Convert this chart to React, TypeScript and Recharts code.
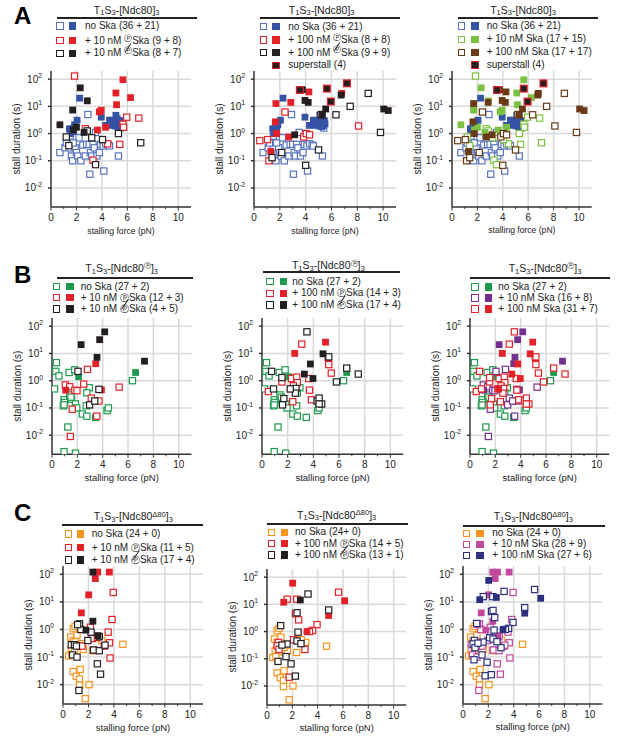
import React from "react";
import { ReferenceLine, Scatter, ScatterChart, XAxis, YAxis } from "recharts";

type Pt = [number, number];

const FONT = '"Liberation Sans", Arial, Helvetica, sans-serif';

// ---- row A: T1S3-[Ndc80]3 ----
const aNoSkaOpen: Pt[] = [
  [0.7, 0.2], [1.1, 0.3], [1.3, 0.55], [1.5, 0.3], [1.6, 0.15], [1.7, 0.1], [1.8, 0.75], [1.9, 0.3],
  [2.0, 0.2], [2.1, 0.15], [2.2, 0.7], [2.35, 0.1], [2.5, 0.38], [2.7, 0.15], [2.8, 0.4], [2.9, 5.0],
  [3.0, 0.4], [3.05, 0.032], [3.1, 0.2], [3.2, 0.15], [3.3, 0.4], [3.4, 0.3], [3.5, 1.1], [3.6, 0.15],
  [3.8, 0.2], [3.9, 0.4], [4.1, 0.35], [4.15, 0.042], [4.3, 0.42], [4.5, 0.38], [4.6, 0.35], [5.3, 0.15],
  [5.4, 1.6], [1.2, 0.45], [1.5, 0.8], [1.75, 0.45],
];
const aNoSkaFilled: Pt[] = [
  [2.25, 20], [2.05, 3.1], [1.85, 2.1], [1.65, 1.5], [1.45, 1.5], [1.55, 1.0], [1.75, 1.2], [3.95, 4.0],
  [4.3, 2.0], [4.6, 3.1], [4.8, 3.1], [4.75, 2.0], [5.0, 2.5], [5.1, 4.7], [5.2, 3.5], [5.3, 2.6],
  [5.4, 2.0], [5.25, 1.8], [5.45, 3.0], [5.5, 2.3], [5.05, 1.9],
];
const a10PhosOpen: Pt[] = [
  [1.85, 130], [5.95, 4.0], [6.9, 3.7], [5.65, 2.2], [5.7, 1.7], [2.7, 1.5], [3.3, 0.105], [4.45, 0.42], [5.4, 0.4],
];
const a10PhosFilled: Pt[] = [
  [5.65, 95], [5.1, 31], [5.15, 11.5], [6.25, 21], [3.8, 6.3], [3.65, 1.35], [4.3, 1.7], [3.95, 7.2],
];
const a10DephosOpen: Pt[] = [
  [1.2, 0.75], [1.4, 0.36], [2.85, 1.25], [3.2, 0.7], [3.5, 0.072], [4.05, 0.6], [5.3, 1.0], [7.05, 0.46],
];
const a10DephosFilled: Pt[] = [
  [2.3, 48], [2.85, 16], [1.7, 7.3], [0.7, 2.1], [2.0, 1.7], [1.75, 1.35], [2.6, 1.1],
];
const a100PhosOpen: Pt[] = [
  [2.4, 6.2], [0.45, 0.55], [1.15, 0.1], [3.85, 0.75], [4.05, 1.0], [4.3, 0.9], [8.1, 1.9], [1.05, 0.6],
];
const a100PhosFilled: Pt[] = [
  [1.7, 12.7], [2.85, 14], [4.25, 34], [6.8, 30], [1.65, 2.7], [1.3, 0.22], [2.7, 0.75], [1.75, 1.0],
];
const a100DephosOpen: Pt[] = [
  [8.85, 30], [7.45, 10], [6.35, 4.9], [9.8, 1.1], [4.0, 0.068], [5.0, 0.25], [1.4, 0.13], [2.15, 0.2], [5.2, 5.0],
];
const a100DephosFilled: Pt[] = [
  [3.75, 41], [3.95, 16.5], [4.2, 14], [5.3, 4.8], [5.55, 8], [6.75, 26], [10.05, 8], [10.4, 7], [3.15, 0.9],
];
const aSuperstall: Pt[] = [[3.55, 40], [5.65, 45], [5.95, 15], [7.2, 70]];

// ---- row B: T1S3-[Ndc80(P)]3 ----
const bNoSkaOpen: Pt[] = [
  [0.35, 4.6], [0.3, 2.2], [0.55, 1.5], [0.2, 0.5], [1.35, 2.0], [1.8, 2.5], [0.95, 0.2], [1.0, 0.16],
  [0.9, 0.12], [1.4, 0.3], [1.55, 0.21], [1.85, 0.14], [1.95, 0.1], [2.95, 0.55], [2.75, 0.36], [2.4, 0.06],
  [2.75, 0.05], [3.45, 0.045], [4.35, 0.08], [4.45, 0.1], [6.35, 1.0], [2.7, 0.12], [1.25, 0.02],
  [0.95, 0.0025], [1.85, 0.0022], [0.95, 0.13], [1.5, 0.25],
];
const bNoSkaFilled: Pt[] = [[2.1, 1.4], [6.6, 2.0]];
const b10PhosOpen: Pt[] = [
  [1.05, 0.7], [1.4, 0.6], [1.8, 0.45], [1.97, 0.43], [2.5, 0.75], [2.8, 2.6], [3.1, 0.23], [3.7, 0.18],
  [3.53, 0.05], [5.3, 0.58], [1.6, 0.09], [1.45, 0.009],
];
const b10PhosFilled: Pt[] = [[3.45, 4.2], [1.08, 0.45], [3.9, 0.46]];
const b10DephosOpen: Pt[] = [[2.05, 2.2], [2.97, 0.13], [3.37, 0.18], [3.7, 0.48]];
const b10DephosFilled: Pt[] = [[2.3, 21], [3.76, 32], [4.16, 62], [3.55, 7.2], [7.3, 5.2]];
const b100PhosOpen: Pt[] = [
  [3.1, 22], [2.3, 1.2], [2.7, 1.35], [2.75, 0.85], [2.45, 0.65], [2.4, 0.17], [3.65, 1.2], [3.7, 0.45],
  [3.85, 0.2], [5.2, 3.9], [5.4, 1.9], [5.15, 7.2], [0.5, 0.4], [1.55, 0.9],
];
const b100PhosFilled: Pt[] = [[2.55, 10], [4.95, 26], [2.25, 0.5]];
const b100DephosOpen: Pt[] = [
  [3.5, 62], [5.2, 7.5], [6.6, 2.9], [7.5, 1.75], [5.8, 0.9], [0.75, 2.2], [0.9, 0.5], [1.55, 1.3],
  [1.7, 0.22], [1.6, 0.13], [2.65, 0.52], [2.6, 0.35], [4.3, 0.18], [4.45, 0.23], [4.65, 0.14], [4.45, 0.14], [2.2, 0.5],
];
const b100DephosFilled: Pt[] = [[4.75, 9.7], [3.77, 4.1], [3.3, 1.75], [3.97, 1.2]];

// ---- row C: T1S3-[Ndc80Δ80]3 ----
const cNoSkaOpen: Pt[] = [
  [0.8, 1.07], [0.95, 1.3], [0.6, 0.53], [0.8, 0.4], [1.1, 0.62], [0.95, 0.36], [0.65, 0.2], [0.9, 0.18],
  [1.5, 0.31], [1.6, 0.19], [0.45, 0.11], [0.7, 0.12], [0.8, 0.03], [1.05, 0.02], [1.35, 0.036], [1.3, 0.016],
  [1.3, 0.0095], [2.05, 0.01], [1.75, 0.0031], [3.05, 0.4], [2.7, 0.5], [2.35, 0.17], [4.7, 0.29], [1.35, 0.26],
];
const cNoSkaFilled: Pt[] = [];
const c10PhosOpen: Pt[] = [
  [3.95, 22], [3.85, 2.3], [2.15, 1.2], [2.3, 0.47], [3.55, 0.8], [3.65, 0.33], [3.25, 0.25], [3.7, 0.093],
  [1.5, 0.25], [2.4, 0.18], [2.7, 0.52],
];
const c10PhosFilled: Pt[] = [[2.72, 120], [3.64, 120], [2.54, 70], [2.02, 18], [1.44, 4.0]];
const c10DephosOpen: Pt[] = [
  [1.3, 1.6], [1.4, 1.0], [1.15, 1.5], [1.95, 0.4], [2.2, 0.8], [2.85, 0.55], [0.65, 0.28], [0.9, 0.28],
  [1.05, 0.25], [0.75, 0.12], [1.1, 0.1], [2.4, 0.18], [2.85, 0.17], [3.3, 0.27], [2.7, 0.057], [2.95, 0.024], [1.25, 0.0062],
];
const c10DephosFilled: Pt[] = [[2.35, 120], [2.35, 2.0], [1.8, 0.95], [2.75, 0.6]];
const c100PhosOpen: Pt[] = [
  [1.6, 15.5], [2.35, 15.5], [5.65, 28], [2.25, 4.5], [2.5, 2.7], [3.95, 1.8], [3.6, 1.1], [3.35, 1.0],
  [2.1, 0.5], [3.0, 0.22], [1.75, 0.021], [0.9, 0.4], [0.8, 0.3], [0.95, 0.22],
];
const c100PhosFilled: Pt[] = [[2.03, 60], [1.32, 12], [6.13, 13.5], [4.87, 3.9], [3.16, 1.0]];
const c100DephosOpen: Pt[] = [
  [3.24, 24], [4.87, 6.2], [2.37, 4.9], [2.45, 0.95], [1.08, 1.65], [1.58, 0.35], [1.18, 0.32], [2.37, 0.45],
  [2.68, 0.36], [1.5, 0.12], [0.87, 0.08], [1.9, 0.065], [2.24, 0.023],
];
const c100DephosFilled: Pt[] = [[2.63, 14.5]];

const xTicks = [0, 2, 4, 6, 8, 10];
const xAllTicks = [0, 1, 2, 3, 4, 5, 6, 7, 8, 9, 10];
const yTicks = [0.01, 0.1, 1, 10, 100];

const BLUE = "#3553a5";
const BLUE_OPEN = "#5874be";
const RED = "#e32129";
const BLACK = "#231f20";
const GREEN = "#1d9a4e";
const LIME = "#7cc242";
const BROWN = "#6a3a16";
const PURPLE = "#74308c";
const ORANGE = "#f7941e";
const MAGENTA = "#c1489c";
const NAVY = "#2c2f7c";

type Series = { data: Pt[]; color: string; filled: boolean; border?: string };
type LegendRow = { y: number; open?: string; fill: string; border?: string; text: React.ReactNode };
type Panel = {
  key: string;
  left: number;
  top: number;
  w: number;
  h: number;
  xLabelSize: number;
  title: React.ReactNode;
  titleX: number;
  titleY: number;
  line: [number, number, number];
  legX: [number, number, number];
  legend: LegendRow[];
  series: Series[];
};

function PSym({ raised, crossed }: { raised?: boolean; crossed?: boolean }) {
  return (
    <span
      style={{
        position: "relative",
        top: raised ? "-0.4em" : 0,
        fontSize: raised ? "0.8em" : "0.9em",
        lineHeight: 0,
        fontFamily: "DejaVu Sans, sans-serif",
      }}
    >
      Ⓟ
      {crossed && (
        <span
          style={{
            position: "absolute",
            left: "-15%",
            top: "0.05em",
            width: "130%",
            borderTop: "1px solid currentColor",
            transform: "rotate(-55deg)",
          }}
        />
      )}
    </span>
  );
}

function Title({ mod }: { mod?: "P" | "d80" }) {
  const sub: React.CSSProperties = { fontSize: "0.72em", position: "relative", top: "0.25em", lineHeight: 0 };
  const sup: React.CSSProperties = { fontSize: "0.72em", position: "relative", top: "-0.45em", lineHeight: 0 };
  return (
    <span>
      T<span style={sub}>1</span>S<span style={sub}>3</span>-[Ndc80
      {mod === "P" && (
        <span style={sup}>
          <PSym />
        </span>
      )}
      {mod === "d80" && <span style={sup}>Δ80</span>}]<span style={sub}>3</span>
    </span>
  );
}

const toXY = (pts: Pt[]) => pts.map(([x, y]) => ({ x, y }));

function makeShape(color: string, filled: boolean, border?: string) {
  return (props: any) => {
    const { cx, cy } = props;
    if (cx == null || cy == null) return <g />;
    const s = filled ? 6.8 : 6.2;
    return (
      <rect
        x={cx - s / 2}
        y={cy - s / 2}
        width={s}
        height={s}
        fill={filled ? color : "#fff"}
        stroke={border ?? color}
        strokeWidth={filled && !border ? 0 : 1.2}
      />
    );
  };
}

// tick text sits at axis + tickSize + tickMargin (3 + 4)
function XTick(props: any) {
  const { x, y, payload } = props;
  const v = payload.value as number;
  const axisY = y - 7;
  const major = v % 2 === 0;
  return (
    <g>
      <line x1={x} x2={x} y1={axisY} y2={axisY + (major ? 3.5 : 2)} stroke="#333" strokeWidth={1} />
      {major && (
        <text x={x} y={y} dy="0.71em" textAnchor="middle" fontSize={10} fontFamily={FONT} fill="#222">
          {v}
        </text>
      )}
    </g>
  );
}

function YTick(props: any) {
  const { x, y, payload } = props;
  const exp = Math.round(Math.log10(payload.value));
  return (
    <text x={x} y={y + 3.5} textAnchor="end" fontSize={10} fontFamily={FONT} fill="#222">
      10
      <tspan dy={-4.5} fontSize={6.8}>
        {exp}
      </tspan>
    </text>
  );
}

function XTitle(props: any) {
  const vb = props.viewBox;
  if (!vb) return null;
  return (
    <text
      x={vb.x + vb.width / 2}
      y={vb.y + 26.5}
      textAnchor="middle"
      fontSize={props.size}
      fontFamily={FONT}
      fill="#222"
    >
      stalling force (pN)
    </text>
  );
}

function YTitle(props: any) {
  const vb = props.viewBox;
  if (!vb) return null;
  const x = vb.x + vb.width - 31;
  const y = vb.y + vb.height / 2;
  return (
    <text
      x={x}
      y={y}
      transform={`rotate(-90 ${x} ${y})`}
      textAnchor="middle"
      fontSize={10}
      fontFamily={FONT}
      fill="#222"
    >
      stall duration (s)
    </text>
  );
}

const P = (crossed?: boolean) => <PSym raised crossed={crossed} />;
const Pi = (crossed?: boolean) => <PSym crossed={crossed} />;

const PANELS: Panel[] = [
  {
    key: "A1", left: 50.7, top: 70.8, w: 140, h: 136, xLabelSize: 8.6,
    title: <Title />, titleX: 126.7, titleY: 10, line: [56.7, 196.7, 18.3], legX: [60, 72.3, 85],
    legend: [
      { y: 26, open: BLUE_OPEN, fill: BLUE, text: <>no Ska (36 + 21)</> },
      { y: 40.7, open: RED, fill: RED, text: <>+ 10 nM {P()}Ska (9 + 8)</> },
      { y: 53.3, open: BLACK, fill: BLACK, text: <>+ 10 nM {P(true)}Ska (8 + 7)</> },
    ],
    series: [
      { data: aNoSkaOpen, color: BLUE_OPEN, filled: false },
      { data: aNoSkaFilled, color: BLUE, filled: true },
      { data: a10PhosOpen, color: RED, filled: false },
      { data: a10PhosFilled, color: RED, filled: true },
      { data: a10DephosOpen, color: BLACK, filled: false },
      { data: a10DephosFilled, color: BLACK, filled: true },
    ],
  },
  {
    key: "A2", left: 254, top: 70.8, w: 142, h: 136, xLabelSize: 8.6,
    title: <Title />, titleX: 321.7, titleY: 10, line: [260, 400, 18.3], legX: [263.3, 276, 288.3],
    legend: [
      { y: 26.5, open: BLUE_OPEN, fill: BLUE, text: <>no Ska (36 + 21)</> },
      { y: 40, open: RED, fill: RED, text: <>+ 100 nM {P()}Ska (8 + 8)</> },
      { y: 52.5, open: BLACK, fill: BLACK, text: <>+ 100 nM {P(true)}Ska (9 + 9)</> },
      { y: 65.3, fill: BLACK, border: RED, text: <>superstall (4)</> },
    ],
    series: [
      { data: aNoSkaOpen, color: BLUE_OPEN, filled: false },
      { data: aNoSkaFilled, color: BLUE, filled: true },
      { data: a100PhosOpen, color: RED, filled: false },
      { data: a100PhosFilled, color: RED, filled: true },
      { data: a100DephosOpen, color: BLACK, filled: false },
      { data: a100DephosFilled, color: BLACK, filled: true },
      { data: aSuperstall, color: BLACK, filled: true, border: RED },
    ],
  },
  {
    key: "A3", left: 452, top: 70.8, w: 139.7, h: 136, xLabelSize: 8.6,
    title: <Title />, titleX: 523, titleY: 10, line: [458, 598, 18.3], legX: [461.7, 475, 486.7],
    legend: [
      { y: 26, open: BLUE_OPEN, fill: BLUE, text: <>no Ska (36 + 21)</> },
      { y: 39.3, open: LIME, fill: LIME, text: <>+ 10 nM Ska (17 + 15)</> },
      { y: 52.3, open: BROWN, fill: BROWN, text: <>+ 100 nM Ska (17 + 17)</> },
      { y: 65, fill: BLACK, border: RED, text: <>superstall (4)</> },
    ],
    series: [
      { data: aNoSkaOpen, color: BLUE_OPEN, filled: false },
      { data: aNoSkaFilled, color: BLUE, filled: true },
      { data: [...a10PhosOpen, ...a10DephosOpen], color: LIME, filled: false },
      { data: [...a10PhosFilled, ...a10DephosFilled], color: LIME, filled: true },
      { data: [...a100PhosOpen, ...a100DephosOpen], color: BROWN, filled: false },
      { data: [...a100PhosFilled, ...a100DephosFilled], color: BROWN, filled: true },
      { data: aSuperstall, color: BLACK, filled: true, border: RED },
    ],
  },
  {
    key: "B1", left: 52.3, top: 317.8, w: 139.4, h: 136.3, xLabelSize: 9.5,
    title: <Title mod="P" />, titleX: 121.7, titleY: 268.3, line: [56.7, 192.7, 277.7], legX: [56.7, 70, 80.7],
    legend: [
      { y: 286.7, open: GREEN, fill: GREEN, text: <>no Ska (27 + 2)</> },
      { y: 297.7, open: RED, fill: RED, text: <>+ 10 nM {Pi()}Ska (12 + 3)</> },
      { y: 309, open: BLACK, fill: BLACK, text: <>+ 10 nM {Pi(true)}Ska (4 + 5)</> },
    ],
    series: [
      { data: bNoSkaOpen, color: GREEN, filled: false },
      { data: bNoSkaFilled, color: GREEN, filled: true },
      { data: b10PhosOpen, color: RED, filled: false },
      { data: b10PhosFilled, color: RED, filled: true },
      { data: b10DephosOpen, color: BLACK, filled: false },
      { data: b10DephosFilled, color: BLACK, filled: true },
    ],
  },
  {
    key: "B2", left: 261.7, top: 317.8, w: 141.2, h: 136.3, xLabelSize: 9.5,
    title: <Title mod="P" />, titleX: 328.3, titleY: 265.5, line: [263.3, 400, 272.3], legX: [270, 283.3, 292.3],
    legend: [
      { y: 281.7, open: GREEN, fill: GREEN, text: <>no Ska (27 + 2)</> },
      { y: 293.3, open: RED, fill: RED, text: <>+ 100 nM {Pi()}Ska (14 + 3)</> },
      { y: 305, open: BLACK, fill: BLACK, text: <>+ 100 nM {Pi(true)}Ska (17 + 4)</> },
    ],
    series: [
      { data: bNoSkaOpen, color: GREEN, filled: false },
      { data: bNoSkaFilled, color: GREEN, filled: true },
      { data: b100PhosOpen, color: RED, filled: false },
      { data: b100PhosFilled, color: RED, filled: true },
      { data: b100DephosOpen, color: BLACK, filled: false },
      { data: b100DephosFilled, color: BLACK, filled: true },
    ],
  },
  {
    key: "B3", left: 470, top: 317.8, w: 139.4, h: 136.3, xLabelSize: 9.5,
    title: <Title mod="P" />, titleX: 545, titleY: 268.3, line: [470, 610, 277.7], legX: [475, 488.3, 498.3],
    legend: [
      { y: 287, open: GREEN, fill: GREEN, text: <>no Ska (27 + 2)</> },
      { y: 298, open: PURPLE, fill: PURPLE, text: <>+ 10 nM Ska (16 + 8)</> },
      { y: 309, open: RED, fill: RED, text: <>+ 100 nM Ska (31 + 7)</> },
    ],
    series: [
      { data: bNoSkaOpen, color: GREEN, filled: false },
      { data: bNoSkaFilled, color: GREEN, filled: true },
      { data: [...b10PhosOpen, ...b10DephosOpen], color: PURPLE, filled: false },
      { data: [...b10PhosFilled, ...b10DephosFilled], color: PURPLE, filled: true },
      { data: [...b100PhosOpen, ...b100DephosOpen], color: RED, filled: false },
      { data: [...b100PhosFilled, ...b100DephosFilled], color: RED, filled: true },
    ],
  },
  {
    key: "C1", left: 62.7, top: 565.7, w: 140, h: 138, xLabelSize: 9.5,
    title: <Title mod="d80" />, titleX: 133.3, titleY: 516.7, line: [61.7, 203.3, 525], legX: [68.3, 80.7, 91.7],
    legend: [
      { y: 534, open: ORANGE, fill: ORANGE, text: <>no Ska (24 + 0)</> },
      { y: 547.7, open: RED, fill: RED, text: <>+ 10 nM {Pi()}Ska (11 + 5)</> },
      { y: 560, open: BLACK, fill: BLACK, text: <>+ 10 nM {Pi(true)}Ska (17 + 4)</> },
    ],
    series: [
      { data: cNoSkaOpen, color: ORANGE, filled: false },
      { data: cNoSkaFilled, color: ORANGE, filled: true },
      { data: c10PhosOpen, color: RED, filled: false },
      { data: c10PhosFilled, color: RED, filled: true },
      { data: c10DephosOpen, color: BLACK, filled: false },
      { data: c10DephosFilled, color: BLACK, filled: true },
    ],
  },
  {
    key: "C2", left: 266.7, top: 569.2, w: 139.3, h: 136, xLabelSize: 9.5,
    title: <Title mod="d80" />, titleX: 336.7, titleY: 515, line: [266.7, 407.7, 524], legX: [271.7, 284.3, 295],
    legend: [
      { y: 532.3, open: ORANGE, fill: ORANGE, text: <>no Ska (24+ 0)</> },
      { y: 543.7, open: RED, fill: RED, text: <>+ 100 nM {Pi()}Ska (14 + 5)</> },
      { y: 555, open: BLACK, fill: BLACK, text: <>+ 100 nM {Pi(true)}Ska (13 + 1)</> },
    ],
    series: [
      { data: cNoSkaOpen, color: ORANGE, filled: false },
      { data: cNoSkaFilled, color: ORANGE, filled: true },
      { data: c100PhosOpen, color: RED, filled: false },
      { data: c100PhosFilled, color: RED, filled: true },
      { data: c100DephosOpen, color: BLACK, filled: false },
      { data: c100DephosFilled, color: BLACK, filled: true },
    ],
  },
  {
    key: "C3", left: 463.3, top: 565.7, w: 139.4, h: 138, xLabelSize: 9.5,
    title: <Title mod="d80" />, titleX: 533.3, titleY: 516.7, line: [463.3, 605, 526], legX: [466.7, 480, 492.3],
    legend: [
      { y: 533.3, open: ORANGE, fill: ORANGE, text: <>no Ska (24 + 0)</> },
      { y: 544.3, open: MAGENTA, fill: MAGENTA, text: <>+ 10 nM Ska (28 + 9)</> },
      { y: 555.3, open: NAVY, fill: NAVY, text: <>+ 100 nM Ska (27 + 6)</> },
    ],
    series: [
      { data: cNoSkaOpen, color: ORANGE, filled: false },
      { data: cNoSkaFilled, color: ORANGE, filled: true },
      { data: [...c10PhosOpen, ...c10DephosOpen], color: MAGENTA, filled: false },
      { data: [...c10PhosFilled, ...c10DephosFilled], color: MAGENTA, filled: true },
      { data: [...c100PhosOpen, ...c100DephosOpen], color: NAVY, filled: false },
      { data: [...c100PhosFilled, ...c100DephosFilled], color: NAVY, filled: true },
    ],
  },
];

const LEFT = 50;
const TOP = 6;
const XH = 40;

function LegendSquare({ x, y, color, filled, border }: { x: number; y: number; color: string; filled: boolean; border?: string }) {
  const s = 7.4;
  return (
    <div
      style={{
        position: "absolute",
        left: x - s / 2,
        top: y - s / 2,
        width: s,
        height: s,
        boxSizing: "border-box",
        background: filled ? color : "#fff",
        border: filled && !border ? "none" : `1.3px solid ${border ?? color}`,
      }}
    />
  );
}

function PanelView({ p }: { p: Panel }) {
  const [openX, fillX, textX] = p.legX;
  return (
    <>
      <div
        style={{
          position: "absolute",
          left: p.titleX,
          top: p.titleY - 5.5,
          transform: "translateX(-50%)",
          whiteSpace: "nowrap",
          fontSize: 10.5,
          lineHeight: "11px",
          color: "#222",
        }}
      >
        {p.title}
      </div>
      <div
        style={{
          position: "absolute",
          left: p.line[0],
          top: p.line[2] - 1,
          width: p.line[1] - p.line[0],
          height: 2,
          background: "#222",
        }}
      />
      {p.legend.map((row, i) => (
        <React.Fragment key={i}>
          {row.open && <LegendSquare x={openX} y={row.y} color={row.open} filled={false} />}
          <LegendSquare x={fillX} y={row.y} color={row.fill} filled border={row.border} />
          <div
            style={{
              position: "absolute",
              left: textX,
              top: row.y - 5,
              whiteSpace: "nowrap",
              fontSize: 10,
              lineHeight: "10px",
              color: "#222",
            }}
          >
            {row.text}
          </div>
        </React.Fragment>
      ))}
      <div style={{ position: "absolute", left: p.left - LEFT, top: p.top - TOP }}>
        <ScatterChart
          width={p.w + LEFT + 6}
          height={p.h + TOP + XH}
          margin={{ top: TOP, right: 6, left: 10, bottom: 0 }}
        >
          <XAxis
            type="number"
            dataKey="x"
            domain={[0, 11]}
            ticks={xAllTicks}
            interval={0}
            allowDataOverflow
            height={XH}
            tickSize={3}
            tickMargin={4}
            tickLine={false}
            tick={<XTick />}
            stroke="#333"
            strokeWidth={1.5}
            label={{ content: <XTitle size={p.xLabelSize} /> }}
          />
          <YAxis
            type="number"
            dataKey="y"
            scale="log"
            domain={[Math.pow(10, -2.7), Math.pow(10, 2.3)]}
            ticks={yTicks}
            interval={0}
            allowDataOverflow
            width={40}
            tickSize={3}
            tickMargin={6}
            tick={<YTick />}
            stroke="#333"
            strokeWidth={1.5}
            label={{ content: <YTitle /> }}
          />
          {xTicks.slice(1).map((v) => (
            <ReferenceLine key={`gx${v}`} x={v} stroke="#d9d9d9" strokeWidth={1.5} />
          ))}
          {yTicks.map((v) => (
            <ReferenceLine key={`gy${v}`} y={v} stroke="#d9d9d9" strokeWidth={1.5} />
          ))}
          {p.series.map((s, i) => (
            <Scatter
              key={i}
              data={toXY(s.data)}
              isAnimationActive={false}
              shape={makeShape(s.color, s.filled, s.border)}
            />
          ))}
        </ScatterChart>
      </div>
    </>
  );
}

export default function App() {
  return (
    <div
      style={{
        position: "relative",
        width: 617,
        height: 742,
        background: "#fff",
        fontFamily: FONT,
        overflow: "hidden",
      }}
    >
      <style>{"body{margin:0}"}</style>
      {[
        ["A", 4],
        ["B", 263],
        ["C", 501],
      ].map(([t, y]) => (
        <div
          key={t as string}
          style={{
            position: "absolute",
            left: 14,
            top: y as number,
            fontSize: 24,
            fontWeight: "bold",
            fontFamily: FONT,
            lineHeight: "24px",
          }}
        >
          {t}
        </div>
      ))}
      {PANELS.map((p) => (
        <PanelView key={p.key} p={p} />
      ))}
    </div>
  );
}
